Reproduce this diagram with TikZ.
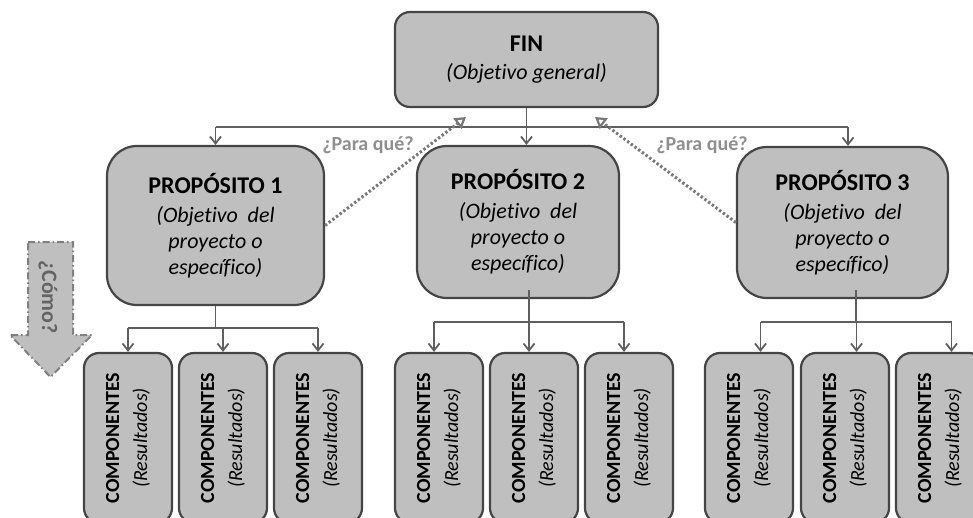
\documentclass[tikz,border=0pt]{standalone}
\usepackage{fontspec}
\usepackage{graphicx}
\setmainfont{Carlito}[Ligatures=NoCommon]
\usetikzlibrary{arrows.meta,calc}

\definecolor{boxfill}{HTML}{BFBFBF}
\definecolor{boxline}{HTML}{454545}
\definecolor{linkgray}{HTML}{5F5F5F}
\definecolor{asklabel}{HTML}{8F8F8F}
\definecolor{dotgray}{HTML}{787878}
\definecolor{howline}{HTML}{808080}
\definecolor{howtext}{HTML}{646464}

% text of every result box, set upright along the box
\newcommand\comptext{\rotatebox{90}{\fontsize{20}{25}\selectfont
  \begin{tabular}{@{}c@{}}\bfseries COMPONENTES\\[3pt] \itshape (Resultados)\end{tabular}}}

\begin{document}
\begin{tikzpicture}[x=1pt,y=-1pt,
  panel/.style={draw=boxline, fill=boxfill, line width=2.2pt, align=center, inner sep=0pt},
  goalbox/.style={panel, rounded corners=15pt,
    font=\itshape\fontsize{22}{28}\selectfont},
  purpose/.style={panel, rounded corners=30pt,
    font=\itshape\fontsize{22}{26}\selectfont},
  compbox/.style={panel, rounded corners=15pt, minimum width=88pt, minimum height=170pt},
  link/.style={draw=linkgray, line width=1.8pt},
  tip/.style={link, -{Straight Barb[length=7pt,width=11pt]}},
  why/.style={draw=dotgray, line width=3pt, dash pattern=on 2.4pt off 2.2pt,
    -{Triangle[open,length=11pt,width=13pt,line width=2.2pt]}},
  ask/.style={text=asklabel, font=\bfseries\fontsize{20}{24}\selectfont},
  howarrow/.style={fill=boxfill, draw=howline, line width=2pt,
    dash pattern=on 7pt off 3pt on 1.5pt off 3pt},
]
\useasboundingbox (0,0) rectangle (973,517);

% top goal
\node[goalbox, minimum width=263pt, minimum height=95pt] (fin) at (526.5,59.5)
  {{\upshape\bfseries\fontsize{24}{28}\selectfont FIN}\\
   (Objetivo general)};

% purposes
\node[purpose, minimum width=217pt, minimum height=159pt] (p1) at (215.5,225.5)
  {{\upshape\bfseries\fontsize{24}{28}\selectfont PROPÓSITO 1}\\[3pt]
   (Objetivo\ \ del\\ proyecto o\\ específico)};
\node[purpose, minimum width=202pt, minimum height=152pt] (p2) at (518,222)
  {{\upshape\bfseries\fontsize{24}{28}\selectfont PROPÓSITO 2}\\[3pt]
   (Objetivo\ \ del\\ proyecto o\\ específico)};
\node[purpose, minimum width=211pt, minimum height=151pt] (p3) at (842.5,222.5)
  {{\upshape\bfseries\fontsize{24}{28}\selectfont PROPÓSITO 3}\\[3pt]
   (Objetivo\ \ del\\ proyecto o\\ específico)};

% results
\foreach \n/\x in {11/128,12/223,13/318,21/439,22/534,23/629,31/749,32/845,33/940}
  \node[compbox] (c\n) at (\x,438) {\comptext};

% goal to purposes
\coordinate (hub) at (526.5,127);
\coordinate (p3in) at ([xshift=5.5pt]p3.north);
\draw[link] (fin.south) -- (hub);
\draw[link] (hub -| p1.north) -- (hub -| p3in);
\draw[tip] (hub) -- (hub |- p2.north);
\draw[tip] (hub -| p1.north) -- (p1.north);
\draw[tip] (hub -| p3in) -- (p3in);

% purpose 1 to its results
\coordinate (b1) at (215.5,328);
\draw[link] (p1.south) -- (b1);
\draw[link] (b1 -| c11) -- (b1 -| c13);
\foreach \k in {11,12,13} \draw[tip] (b1 -| c\k) -- (c\k.north);

% purpose 2 to its results
\coordinate (s2) at (529,290);
\coordinate (b2) at (529,322);
\foreach \k in {21,22,23} \coordinate (t\k) at ([xshift=-5pt]c\k.north);
\draw[link] (s2) -- (b2);
\draw[link] (b2 -| t21) -- (b2 -| t23);
\foreach \k in {21,22,23} \draw[tip] (b2 -| t\k) -- (t\k);

% purpose 3 to its results
\coordinate (s3) at (856,290);
\coordinate (b3) at (856,322);
\foreach \k in {31,32,33} \coordinate (t\k) at ([xshift=11.5pt]c\k.north);
\draw[link] (s3) -- (b3);
\draw[link] (b3 -| t31) -- (b3 -| t33);
\foreach \k in {31,32,33} \draw[tip] (b3 -| t\k) -- (t\k);

% "what for" links back to the goal
\coordinate (w1) at (466,117);
\coordinate (w3) at (595,117);
\draw[why] (p1.east) -- (w1);
\draw[why] (p3.west) -- (w3);
\node[ask] (q1) at (368,145) {¿Para qué?};
\node[ask] (q3) at (702,145) {¿Para qué?};

% "how" block arrow
\draw[howarrow] (28,242) -- (73,242) -- (73,335) -- (92,335) -- (50.5,377)
  -- (10,335) -- (28,335) -- cycle;
\node[rotate=-90, text=howtext, font=\bfseries\fontsize{22}{26}\selectfont] (how)
  at (48,297) {¿Cómo?};
\end{tikzpicture}
\end{document}
